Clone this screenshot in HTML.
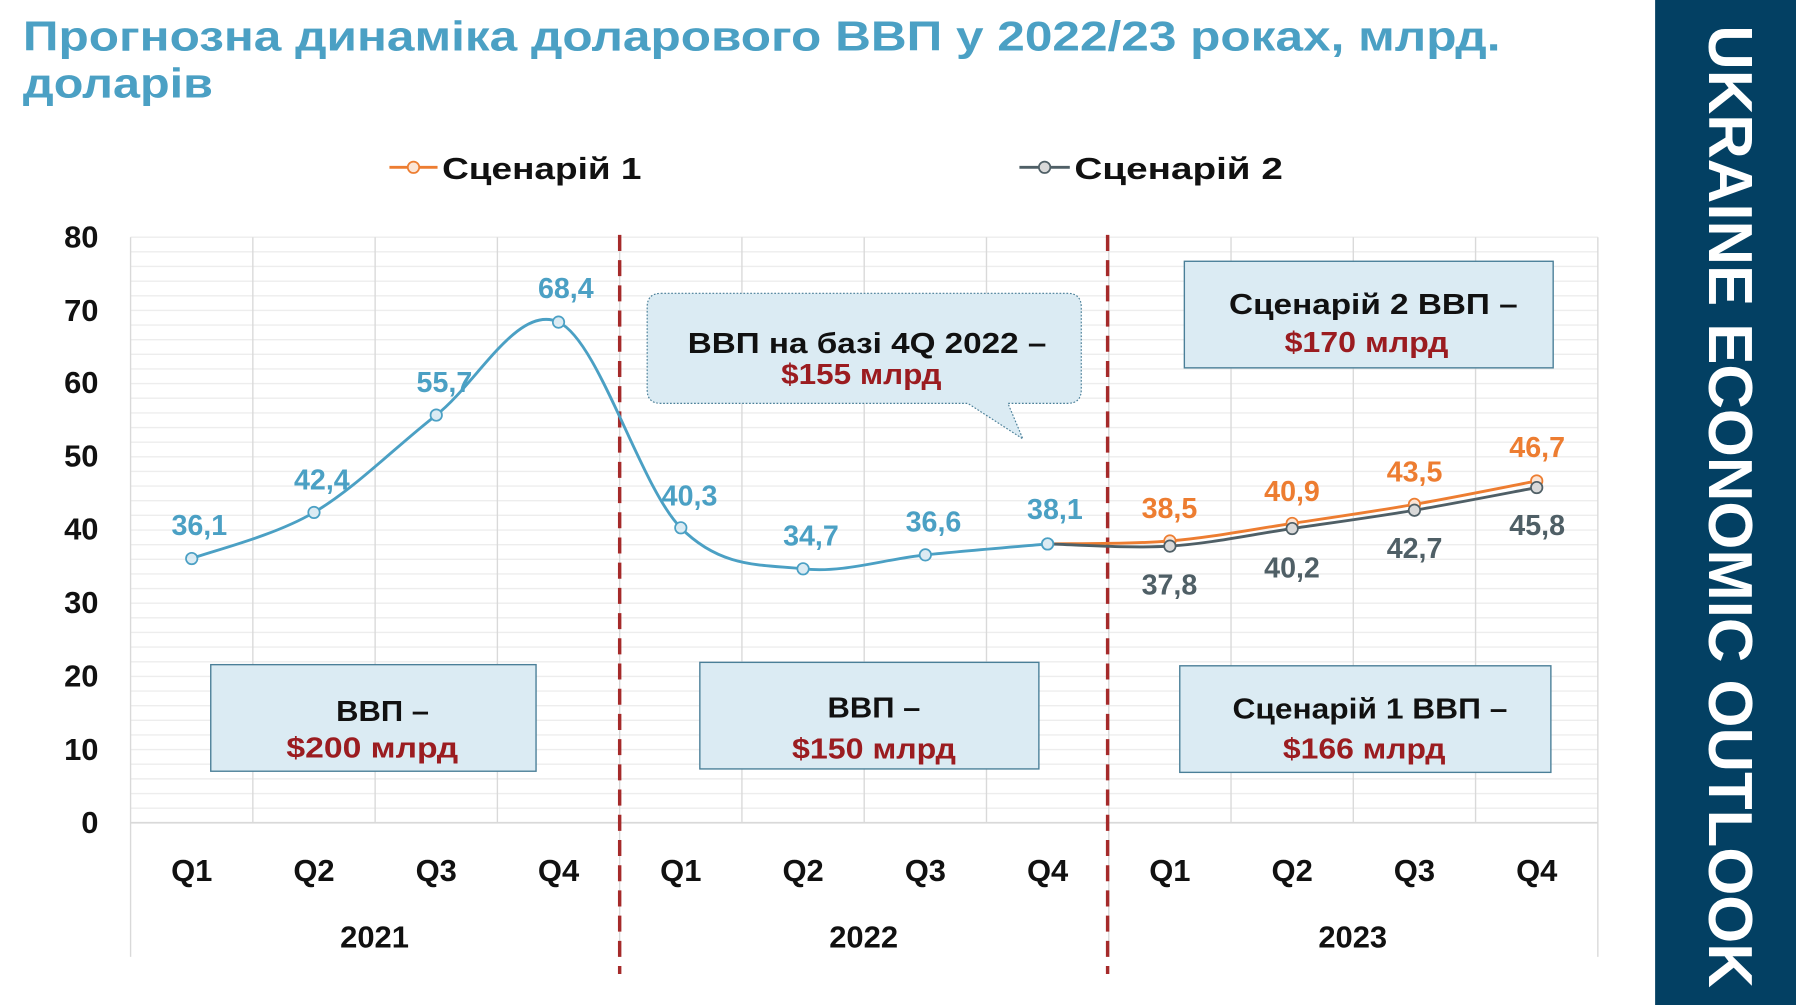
<!DOCTYPE html>
<html><head><meta charset="utf-8"><style>
html,body{margin:0;padding:0;background:#fff;}
svg{display:block;}
text{font-family:"Liberation Sans","DejaVu Sans",sans-serif;font-weight:bold;}
</style></head><body>
<svg id="s" width="1796" height="1005" viewBox="0 0 1568 877" preserveAspectRatio="none" xmlns="http://www.w3.org/2000/svg">
<rect x="0" y="0" width="1568" height="877" fill="#fff"/>
<text x="20" y="44" font-size="36" fill="#4ba0c4" textLength="1290" lengthAdjust="spacingAndGlyphs">Прогнозна динаміка доларового ВВП у 2022/23 роках, млрд.</text>
<text x="20" y="85" font-size="36" fill="#4ba0c4" textLength="166" lengthAdjust="spacingAndGlyphs">доларів</text>
<rect x="1445" y="0" width="123" height="877" fill="#034063"/>
<text transform="translate(1492,22) rotate(90)" font-size="54" fill="#fff" textLength="840" lengthAdjust="spacingAndGlyphs">UKRAINE ECONOMIC OUTLOOK</text>
<!-- legend -->
<line x1="340" y1="146" x2="382" y2="146" stroke="#ed7d31" stroke-width="2.5"/>
<circle cx="361" cy="146" r="5" fill="#fbe5d6" stroke="#ed7d31" stroke-width="1.5"/>
<text x="386" y="156" font-size="27" fill="#111" textLength="174" lengthAdjust="spacingAndGlyphs">Сценарій 1</text>
<line x1="890" y1="146" x2="934" y2="146" stroke="#4f5f66" stroke-width="2.5"/>
<circle cx="912" cy="146" r="5" fill="#d9d9d9" stroke="#4f5f66" stroke-width="1.5"/>
<text x="938" y="156" font-size="27" fill="#111" textLength="182" lengthAdjust="spacingAndGlyphs">Сценарій 2</text>
<g id="grid"></g>
<!-- y labels -->
<g font-size="27" fill="#111" text-anchor="end">
<text x="86" y="216">80</text><text x="86" y="280">70</text><text x="86" y="343">60</text><text x="86" y="407">50</text><text x="86" y="471">40</text><text x="86" y="535">30</text><text x="86" y="599">20</text><text x="86" y="663">10</text><text x="86" y="727">0</text>
</g>
<g id="xl" font-size="27" fill="#111" text-anchor="middle"></g>
<g font-size="27" fill="#111" text-anchor="middle">
<text x="327" y="827">2021</text><text x="754" y="827">2022</text><text x="1181" y="827">2023</text>
</g>
<!-- boxes -->
<g stroke="#4a7f98" stroke-width="1.2" fill="#dbebf3">
<rect x="184" y="580" width="284" height="93"/>
<rect x="611" y="578" width="296" height="93"/>
<rect x="1030" y="581" width="324" height="93"/>
<rect x="1034" y="228" width="322" height="93"/>
</g>
<path d="M577,256 H932 Q944,256 944,268 V340 Q944,352 932,352 H880 L893,383 L845,352 H577 Q565,352 565,340 V268 Q565,256 577,256 Z" fill="#dbebf3" stroke="#4a7f98" stroke-width="1" stroke-dasharray="1.5,1.5"/>
<g font-size="25" text-anchor="middle" lengthAdjust="spacingAndGlyphs">
<text x="334" y="629" fill="#111" textLength="81" lengthAdjust="spacingAndGlyphs">ВВП –</text><text x="325" y="661" fill="#9b1c20" textLength="150" lengthAdjust="spacingAndGlyphs">$200 млрд</text>
<text x="763" y="626" fill="#111" textLength="81" lengthAdjust="spacingAndGlyphs">ВВП –</text><text x="763" y="662" fill="#9b1c20" textLength="143" lengthAdjust="spacingAndGlyphs">$150 млрд</text>
<text x="1196" y="627" fill="#111" textLength="240" lengthAdjust="spacingAndGlyphs">Сценарій 1 ВВП –</text><text x="1191" y="662" fill="#9b1c20" textLength="142" lengthAdjust="spacingAndGlyphs">$166 млрд</text>
<text x="1199" y="274" fill="#111" textLength="252" lengthAdjust="spacingAndGlyphs">Сценарій 2 ВВП  –</text><text x="1193" y="307" fill="#9b1c20" textLength="143" lengthAdjust="spacingAndGlyphs">$170 млрд</text>
<text x="757" y="308" fill="#111" textLength="313" lengthAdjust="spacingAndGlyphs">ВВП на базі 4Q 2022  –</text><text x="752" y="335" fill="#9b1c20" textLength="140" lengthAdjust="spacingAndGlyphs">$155 млрд</text>
</g>
<g id="series"></g>
<g font-size="25" text-anchor="middle" fill="#4ba0c4">
<text x="174" y="467">36,1</text><text x="281" y="427">42,4</text><text x="388" y="342">55,7</text><text x="494" y="260">68,4</text>
<text x="602" y="441">40,3</text><text x="708" y="476">34,7</text><text x="815" y="464">36,6</text><text x="921" y="453">38,1</text>
</g>
<g font-size="25" text-anchor="middle" fill="#ed7d31">
<text x="1021" y="452">38,5</text><text x="1128" y="437">40,9</text><text x="1235" y="420">43,5</text><text x="1342" y="399">46,7</text>
</g>
<g font-size="25" text-anchor="middle" fill="#4f5f66">
<text x="1021" y="519">37,8</text><text x="1128" y="504">40,2</text><text x="1235" y="487">42,7</text><text x="1342" y="467">45,8</text>
</g>
</svg>
<script>
var NS="http://www.w3.org/2000/svg";
function el(p,t,a){var e=document.createElementNS(NS,t);for(var k in a)e.setAttribute(k,a[k]);p.appendChild(e);return e;}
var g=document.getElementById('grid'),L=114,R=1395,T=207,B=718,cw=(R-L)/12;
function Y(v){return B-(B-T)*v/80;}
for(var v=2;v<=80;v+=2){el(g,'line',{x1:L,x2:R,y1:Y(v),y2:Y(v),stroke:'#ededed','stroke-width':1.2});}
for(var i=0;i<=12;i++){var x=L+i*cw;var yb=(i%4==0)?835:B;el(g,'line',{x1:x,x2:x,y1:T,y2:yb,stroke:'#d9d9d9','stroke-width':1.2});}
el(g,'line',{x1:L,x2:R,y1:B,y2:B,stroke:'#d9d9d9','stroke-width':1.5});
[541,967].forEach(function(x){el(g,'line',{x1:x,x2:x,y1:205,y2:850,stroke:'#a52a2a','stroke-width':3,'stroke-dasharray':'14,8'});});
var xl=document.getElementById('xl');
for(var i=0;i<12;i++){var t=el(xl,'text',{x:L+(i+0.5)*cw,y:769});t.textContent='Q'+(i%4+1);}
function X(i){return L+(i+0.5)*cw;}
function path(pts){var d='M'+pts[0][0]+','+pts[0][1];for(var i=0;i<pts.length-1;i++){var p0=pts[i-1]||pts[i],p1=pts[i],p2=pts[i+1],p3=pts[i+2]||p2;
var c1=[p1[0]+(p2[0]-p0[0])/6,p1[1]+(p2[1]-p0[1])/6],c2=[p2[0]-(p3[0]-p1[0])/6,p2[1]-(p3[1]-p1[1])/6];d+=' C'+c1+' '+c2+' '+p2;}return d;}
var s=document.getElementById('series');
function ser(vals,start,col,fill){var pts=vals.map(function(v,k){return [X(start+k),Y(v)];});el(s,'path',{d:path(pts),fill:'none',stroke:col,'stroke-width':2.5});
pts.forEach(function(p,k){if(start>0&&k==0)return;el(s,'circle',{cx:p[0],cy:p[1],r:5,fill:fill,stroke:col,'stroke-width':1.5});});}
ser([38.1,38.5,40.9,43.5,46.7],7,'#ed7d31','#fbe5d6');
ser([38.1,37.8,40.2,42.7,45.8],7,'#4f5f66','#d9d9d9');
ser([36.1,42.4,55.7,68.4,40.3,34.7,36.6,38.1],0,'#4ba0c4','#dbebf3');
el(s,'circle',{cx:X(7),cy:Y(38.1),r:5,fill:'#dbebf3',stroke:'#4ba0c4','stroke-width':1.5});
</script>
</body></html>
